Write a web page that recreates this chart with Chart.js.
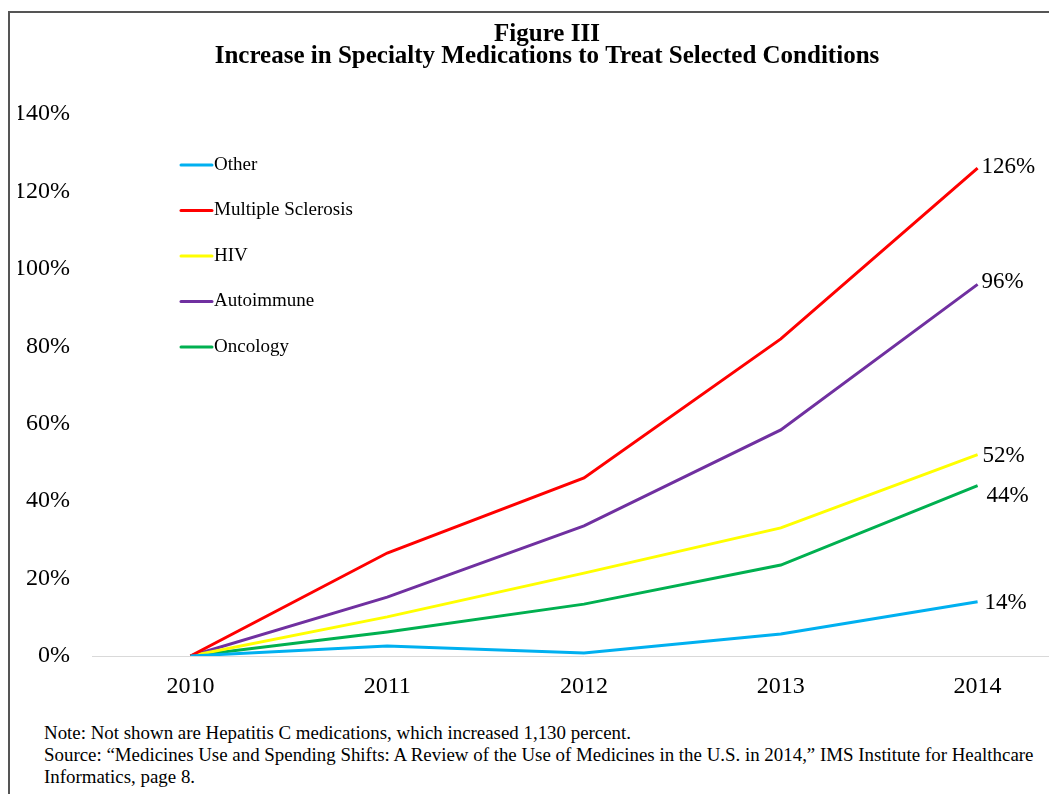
<!DOCTYPE html>
<html>
<head>
<meta charset="utf-8">
<script src="https://cdn.jsdelivr.net/npm/chart.js@4"></script>
<style>
  html, body { margin: 0; padding: 0; background: #fff; overflow: hidden; width: 1049px; height: 794px; }
  #frame { position: absolute; left: 8px; top: 11px; width: 1200px; height: 900px; z-index: 0;
           border-left: 2px solid #555; border-top: 2px solid #555; }
  #wrap { position: absolute; left: 0; top: 0; width: 1100px; height: 710px; z-index: 1; }
  #notes { position: absolute; left: 44px; top: 722px; font-family: "Liberation Serif", "Times New Roman", serif;
           font-size: 18.9px; line-height: 22px; color: #000; width: 1010px; white-space: nowrap; }
</style>
</head>
<body>
<div id="frame"></div>
<div id="wrap"><canvas id="chart"></canvas></div>
<div id="notes">
  Note: Not shown are Hepatitis C medications, which increased 1,130 percent.<br>
  Source: “Medicines Use and Spending Shifts: A Review of the Use of Medicines in the U.S. in 2014,” IMS Institute for Healthcare<br>
  Informatics, page 8.
</div>
<script>
const years = ["2010", "2011", "2012", "2013", "2014"];
const seriesNames = ["Other", "Multiple Sclerosis", "HIV", "Autoimmune", "Oncology"];
const other = [0, 2.6, 0.8, 5.7, 14];
const multipleSclerosis = [0, 26.6, 46, 81.9, 126];
const hiv = [0, 10.1, 21.4, 33.1, 52];
const autoimmune = [0, 15.2, 33.6, 58.4, 96];
const oncology = [0, 6.2, 13.4, 23.5, 44];
const yTicks = [0, 20, 40, 60, 80, 100, 120, 140];

const colors = ["#00B0F0", "#FF0000", "#FFFF00", "#7030A0", "#00B050"];
const serif = "'Liberation Serif', 'Times New Roman', serif";

const datasets = [other, multipleSclerosis, hiv, autoimmune, oncology].map((vals, i) => ({
  label: seriesNames[i],
  data: vals,
  borderColor: colors[i],
  backgroundColor: colors[i],
  borderWidth: 3,
  pointRadius: 0,
  tension: 0,
  fill: false,
}));

// end-of-line value labels, small nudges where labels would collide
const endNudge = [[7, 1], [4, -1], [5, 1], [4, -2], [9, 10]];

const endLabels = {
  id: "endLabels",
  afterDatasetsDraw(chart) {
    const ctx = chart.ctx;
    ctx.save();
    ctx.font = "23px " + serif;
    ctx.fillStyle = "#000";
    ctx.textBaseline = "middle";
    ctx.textAlign = "left";
    chart.data.datasets.forEach((ds, i) => {
      const pt = chart.getDatasetMeta(i).data[ds.data.length - 1];
      const v = ds.data[ds.data.length - 1];
      ctx.fillText(v + "%", pt.x + endNudge[i][0], pt.y + endNudge[i][1]);
    });
    ctx.restore();
  }
};

// legend drawn inside the plot, top-left
const insideLegend = {
  id: "insideLegend",
  afterDraw(chart) {
    const ctx = chart.ctx;
    ctx.save();
    ctx.font = "19px " + serif;
    ctx.textBaseline = "middle";
    ctx.textAlign = "left";
    chart.data.datasets.forEach((ds, i) => {
      const y = 165 + i * 45.5;
      ctx.strokeStyle = ds.borderColor;
      ctx.lineWidth = 3;
      ctx.lineCap = "round";
      ctx.beginPath();
      ctx.moveTo(181, y);
      ctx.lineTo(212, y);
      ctx.stroke();
      ctx.fillStyle = "#000";
      ctx.fillText(ds.label, 214, y);
    });
    ctx.restore();
  }
};

new Chart(document.getElementById("chart"), {
  type: "line",
  data: { labels: years, datasets },
  plugins: [endLabels, insideLegend],
  options: {
    responsive: true,
    maintainAspectRatio: false,
    animation: false,
    layout: { padding: { left: 18, right: 24, top: 0, bottom: 0 } },
    plugins: {
      legend: { display: false },
      tooltip: { enabled: false },
      title: {
        display: true,
        text: ["Figure III", "Increase in Specialty Medications to Treat Selected Conditions"],
        color: "#000",
        font: { family: serif, size: 25, weight: "bold", lineHeight: 0.88 },
        padding: { top: 24, bottom: 46 }
      }
    },
    scales: {
      x: {
        offset: true,
        grid: { display: false, drawTicks: false },
        border: { display: true, color: "#d9d9d9", width: 1 },
        ticks: { color: "#000", font: { family: serif, size: 24 }, padding: 16 },
        afterFit: s => { s.height = 54; }
      },
      y: {
        min: 0,
        max: 140,
        grid: { display: false, drawTicks: false },
        border: { display: false },
        afterBuildTicks: s => { s.ticks = yTicks.map(v => ({ value: v })); },
        ticks: { color: "#000", font: { family: serif, size: 24 }, padding: 22, callback: v => v + "%" },
        afterFit: s => { s.width = 74; }
      }
    }
  }
});
</script>
</body>
</html>
